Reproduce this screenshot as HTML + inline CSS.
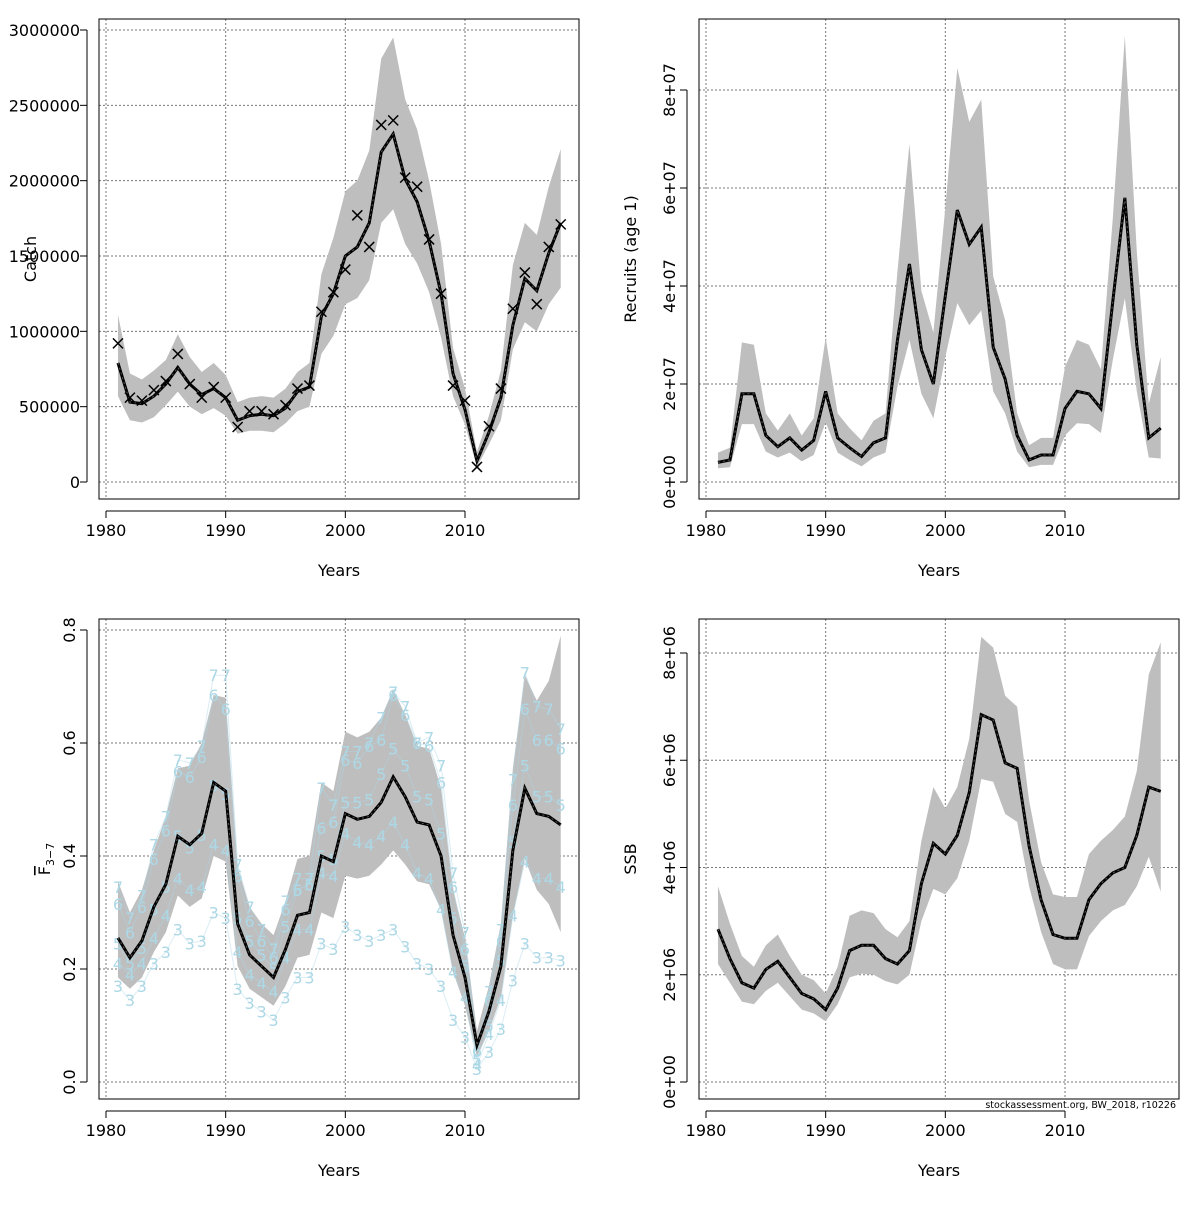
<!DOCTYPE html>
<html><head><meta charset="utf-8"><style>
body{margin:0;background:#fff;}
svg text{font-family:"DejaVu Sans","Liberation Sans",sans-serif;}
</style></head><body>
<svg id="s" width="1200" height="1200" xmlns="http://www.w3.org/2000/svg"></svg>
<script>
const years=[];for(let y=1981;y<=2018;y++)years.push(y);
const catchEst=[790,530,520,570,650,760,650,580,620,560,410,440,450,440,490,600,630,1100,1250,1500,1560,1720,2190,2310,2010,1860,1600,1250,720,480,140,330,560,1040,1350,1270,1520,1720];
const catchHi=[1110,720,680,740,810,980,830,730,790,710,530,560,570,560,620,730,790,1380,1620,1930,2000,2200,2810,2950,2540,2340,2000,1580,890,620,200,440,740,1440,1720,1640,1960,2210];
const catchLo=[570,410,395,430,510,600,500,450,490,440,320,340,340,330,390,470,500,850,970,1180,1220,1340,1720,1810,1580,1450,1260,960,570,380,100,250,410,880,1060,1000,1180,1290];
const catchObs=[920,560,540,610,670,850,650,560,630,560,365,470,470,450,510,620,640,1130,1260,1410,1770,1560,2370,2400,2020,1960,1610,1250,640,540,100,370,620,1150,1390,1180,1560,1710];
const recEst=[0.4,0.45,1.8,1.8,0.95,0.72,0.9,0.65,0.85,1.85,0.9,0.7,0.52,0.8,0.9,2.9,4.45,2.7,2.0,3.8,5.55,4.85,5.2,2.75,2.1,0.95,0.45,0.55,0.55,1.5,1.85,1.8,1.5,3.7,5.8,2.8,0.9,1.1];
const recHi=[0.6,0.7,2.85,2.8,1.4,1.05,1.4,0.95,1.3,2.95,1.4,1.1,0.85,1.25,1.4,4.3,6.9,3.9,3.05,5.6,8.45,7.35,7.8,4.2,3.3,1.4,0.75,0.9,0.9,2.35,2.9,2.8,2.3,5.4,9.1,4.7,1.6,2.55];
const recLo=[0.28,0.3,1.18,1.18,0.62,0.5,0.6,0.42,0.55,1.22,0.6,0.45,0.32,0.5,0.6,1.95,2.9,1.8,1.3,2.55,3.65,3.2,3.5,1.85,1.4,0.62,0.3,0.35,0.35,0.95,1.2,1.18,1.0,2.5,3.75,1.85,0.5,0.48];
const fEst=[0.255,0.22,0.25,0.31,0.35,0.435,0.42,0.44,0.53,0.515,0.28,0.225,0.205,0.185,0.235,0.295,0.30,0.40,0.39,0.475,0.465,0.47,0.495,0.54,0.505,0.46,0.455,0.40,0.26,0.185,0.065,0.125,0.205,0.41,0.52,0.475,0.47,0.455];
const fHi=[0.355,0.30,0.34,0.41,0.47,0.555,0.56,0.60,0.685,0.68,0.38,0.31,0.28,0.26,0.32,0.395,0.40,0.53,0.515,0.62,0.61,0.62,0.645,0.695,0.65,0.595,0.59,0.52,0.34,0.255,0.09,0.17,0.28,0.555,0.72,0.675,0.71,0.79];
const fLo=[0.185,0.165,0.185,0.23,0.265,0.33,0.31,0.325,0.40,0.39,0.205,0.165,0.15,0.135,0.17,0.22,0.225,0.30,0.29,0.365,0.36,0.365,0.385,0.41,0.385,0.355,0.35,0.305,0.195,0.135,0.045,0.09,0.15,0.295,0.395,0.34,0.315,0.265];
const fAge3=[0.17,0.145,0.17,0.21,0.23,0.27,0.245,0.25,0.30,0.29,0.165,0.14,0.125,0.11,0.15,0.185,0.185,0.245,0.235,0.275,0.26,0.25,0.26,0.27,0.24,0.21,0.2,0.17,0.11,0.08,0.023,0.053,0.094,0.18,0.245,0.22,0.22,0.215];
const fAge4=[0.21,0.19,0.21,0.255,0.295,0.36,0.34,0.345,0.42,0.41,0.23,0.19,0.175,0.16,0.22,0.27,0.27,0.37,0.365,0.44,0.425,0.42,0.435,0.46,0.42,0.37,0.36,0.305,0.195,0.15,0.03,0.085,0.145,0.295,0.39,0.36,0.36,0.345];
const fAge5=[0.245,0.21,0.237,0.305,0.345,0.435,0.415,0.437,0.525,0.51,0.29,0.25,0.225,0.2,0.275,0.34,0.35,0.40,0.395,0.495,0.495,0.5,0.545,0.59,0.56,0.505,0.5,0.44,0.29,0.205,0.04,0.10,0.215,0.425,0.56,0.505,0.505,0.49];
const fAge6=[0.315,0.265,0.31,0.395,0.445,0.55,0.54,0.575,0.685,0.66,0.365,0.285,0.25,0.22,0.305,0.34,0.35,0.45,0.46,0.57,0.565,0.595,0.605,0.685,0.65,0.6,0.595,0.53,0.345,0.235,0.055,0.145,0.25,0.49,0.66,0.605,0.605,0.59];
const fAge7=[0.345,0.29,0.33,0.42,0.47,0.57,0.565,0.595,0.72,0.72,0.385,0.31,0.27,0.235,0.32,0.36,0.36,0.52,0.49,0.585,0.585,0.6,0.645,0.69,0.665,0.6,0.61,0.56,0.37,0.265,0.065,0.16,0.27,0.535,0.725,0.665,0.66,0.625];
const ssbEst=[2.85,2.3,1.85,1.75,2.1,2.25,1.95,1.65,1.55,1.35,1.75,2.45,2.55,2.55,2.3,2.2,2.45,3.7,4.45,4.25,4.6,5.4,6.85,6.75,5.95,5.85,4.4,3.4,2.75,2.68,2.68,3.4,3.7,3.9,4.0,4.6,5.5,5.42];
const ssbHi=[3.65,2.95,2.35,2.15,2.55,2.75,2.35,2.0,1.9,1.65,2.15,3.1,3.2,3.15,2.85,2.7,3.0,4.5,5.5,5.1,5.5,6.4,8.3,8.1,7.2,7.0,5.25,4.1,3.5,3.45,3.45,4.25,4.5,4.7,4.95,5.8,7.6,8.2];
const ssbLo=[2.2,1.85,1.5,1.45,1.7,1.85,1.6,1.35,1.28,1.13,1.45,1.95,2.02,2.0,1.88,1.82,2.0,3.0,3.6,3.5,3.8,4.5,5.65,5.6,5.0,4.85,3.65,2.8,2.2,2.1,2.1,2.72,3.0,3.2,3.3,3.65,4.2,3.55];
const xTicks=[1980,1990,2000,2010];
const catchTicks=[0,500,1000,1500,2000,2500,3000];
const catchTickLabels=["0","500000","1000000","1500000","2000000","2500000","3000000"];
const recTicks=[0,2,4,6,8];
const recTickLabels=["0e+00","2e+07","4e+07","6e+07","8e+07"];
const fTicks=[0,0.2,0.4,0.6,0.8];
const fTickLabels=["0.0","0.2","0.4","0.6","0.8"];
const ssbTicks=[0,2,4,6,8];
const ssbTickLabels=["0e+00","2e+06","4e+06","6e+06","8e+06"];

const S=document.getElementById('s');const NS="http://www.w3.org/2000/svg";
function mk(t,a,p){const e=document.createElementNS(NS,t);for(const k in a)e.setAttribute(k,a[k]);(p||S).appendChild(e);return e;}

function panel(o){
  const g=mk('g',{});
  
  
  const L=o.box[0],T=o.box[1],R=o.box[2],B=o.box[3];
  const sx=y=>o.x0+(y-1980)*(o.x1-o.x0)/30;
  const sy=v=>o.y0+(v-o.v0)*(o.y1-o.y0)/(o.v1-o.v0);
  xTicks.forEach(t=>{const l=mk('line',{x1:sx(t),x2:sx(t),y1:T,y2:B,stroke:'#777','stroke-dasharray':'2,2','stroke-width':1},g);});
  o.ticks.forEach(t=>{const l=mk('line',{x1:L,x2:R,y1:sy(t),y2:sy(t),stroke:'#777','stroke-dasharray':'2,2','stroke-width':1},g);});
  let d='M'+years.map((y,i)=>sx(y)+','+sy(o.hi[i])).join('L')+'L'+years.slice().reverse().map((y,j)=>sx(y)+','+sy(o.lo[years.length-1-j])).join('L')+'Z';
  const band=mk('path',{d:d,fill:'#bebebe',stroke:'none'},g);
  
  
  if(o.ages){
    const ga=mk('g',{},g);
    
    
    o.ages.forEach((arr,a)=>{
      const pl=mk('polyline',{points:years.map((y,i)=>sx(y)+','+sy(arr[i])).join(' '),fill:'none',stroke:'#add8e6','stroke-width':1,opacity:0.45},ga);
      
      
      years.forEach((y,i)=>{const t=mk('text',{x:sx(y),y:sy(arr[i])+6,'text-anchor':'middle','font-size':16,fill:'#add8e6'},ga);t.textContent=String(a+3);
        
        });
    });
  }
  const pts=years.map((y,i)=>sx(y)+','+sy(o.est[i])).join(' ');
  const ln=mk('polyline',{points:pts,fill:'none',stroke:'#000','stroke-width':3},g);
  
  
  mk('polyline',{points:pts,fill:'none',stroke:'#555','stroke-width':1,'stroke-dasharray':'2,3'},g);
  if(o.obs){years.forEach((y,i)=>{const cx=sx(y),cy=sy(o.obs[i]);
    const p=mk('path',{d:`M${cx-5},${cy-5}L${cx+5},${cy+5}M${cx-5},${cy+5}L${cx+5},${cy-5}`,stroke:'#000','stroke-width':1.5},g);
    
    });}
  const bx=mk('rect',{x:L,y:T,width:R-L,height:B-T,fill:'none',stroke:'#000','stroke-width':1},g);
  
  
  const ay=B+12;
  const xa=mk('line',{x1:sx(1980),x2:sx(2010),y1:ay,y2:ay,stroke:'#000'},g);
  
  
  xTicks.forEach(t=>{mk('line',{x1:sx(t),x2:sx(t),y1:ay,y2:ay+7,stroke:'#000'},g);
    const tx=mk('text',{x:sx(t),y:ay+25,'text-anchor':'middle','font-size':16},g);tx.textContent=t;
    
    });
  const xt=mk('text',{x:(L+R)/2,y:B+77,'text-anchor':'middle','font-size':16},g);xt.textContent='Years';
  
  
  const ax=L-12;
  const ya=mk('line',{x1:ax,x2:ax,y1:sy(o.ticks[0]),y2:sy(o.ticks[o.ticks.length-1]),stroke:'#000'},g);
  
  
  o.ticks.forEach((t,i)=>{mk('line',{x1:ax,x2:ax-7,y1:sy(t),y2:sy(t),stroke:'#000'},g);
    let tx;
    if(o.rot){tx=mk('text',{x:ax-12,y:sy(t),'text-anchor':'middle','font-size':16,transform:`rotate(-90 ${ax-12} ${sy(t)})`},g);}
    else{tx=mk('text',{x:ax-7,y:sy(t)+6,'text-anchor':'end','font-size':16},g);}
    tx.textContent=o.tickLabels[i];
    
    });
  const yt=mk('text',{x:o.ytx,y:(T+B)/2,'text-anchor':'middle','font-size':16,transform:`rotate(-90 ${o.ytx} ${(T+B)/2})`},g);
  yt.innerHTML=o.ytitle;
  
  
}
panel({name:'catch-panel',box:[99,19,579,499],x0:106,x1:465,y0:482,y1:30,v0:0,v1:3000,ticks:catchTicks,tickLabels:catchTickLabels,est:catchEst,hi:catchHi,lo:catchLo,obs:catchObs,rot:false,ytx:36,ytitle:'Catch'});
panel({name:'recruits-panel',box:[699,19,1179,499],x0:706,x1:1065,y0:482,y1:90,v0:0,v1:8,ticks:recTicks,tickLabels:recTickLabels,est:recEst,hi:recHi,lo:recLo,rot:true,ytx:636,ytitle:'Recruits (age 1)'});
panel({name:'fishing-mortality-panel',box:[99,619,579,1099],x0:106,x1:465,y0:1082,y1:630,v0:0,v1:0.8,ticks:fTicks,tickLabels:fTickLabels,est:fEst,hi:fHi,lo:fLo,ages:[fAge3,fAge4,fAge5,fAge6,fAge7],rot:true,ytx:50,ytitle:'<tspan text-decoration="overline">F</tspan><tspan font-size="11" dy="4">3−7</tspan>'});
panel({name:'ssb-panel',box:[699,619,1179,1099],x0:706,x1:1065,y0:1082,y1:653,v0:0,v1:8,ticks:ssbTicks,tickLabels:ssbTickLabels,est:ssbEst,hi:ssbHi,lo:ssbLo,rot:true,ytx:636,ytitle:'SSB'});
const ft=mk('text',{x:1176,y:1108,'text-anchor':'end','font-size':9.5});ft.textContent='stockassessment.org, BW_2018, r10226';


</script>
</body></html>
